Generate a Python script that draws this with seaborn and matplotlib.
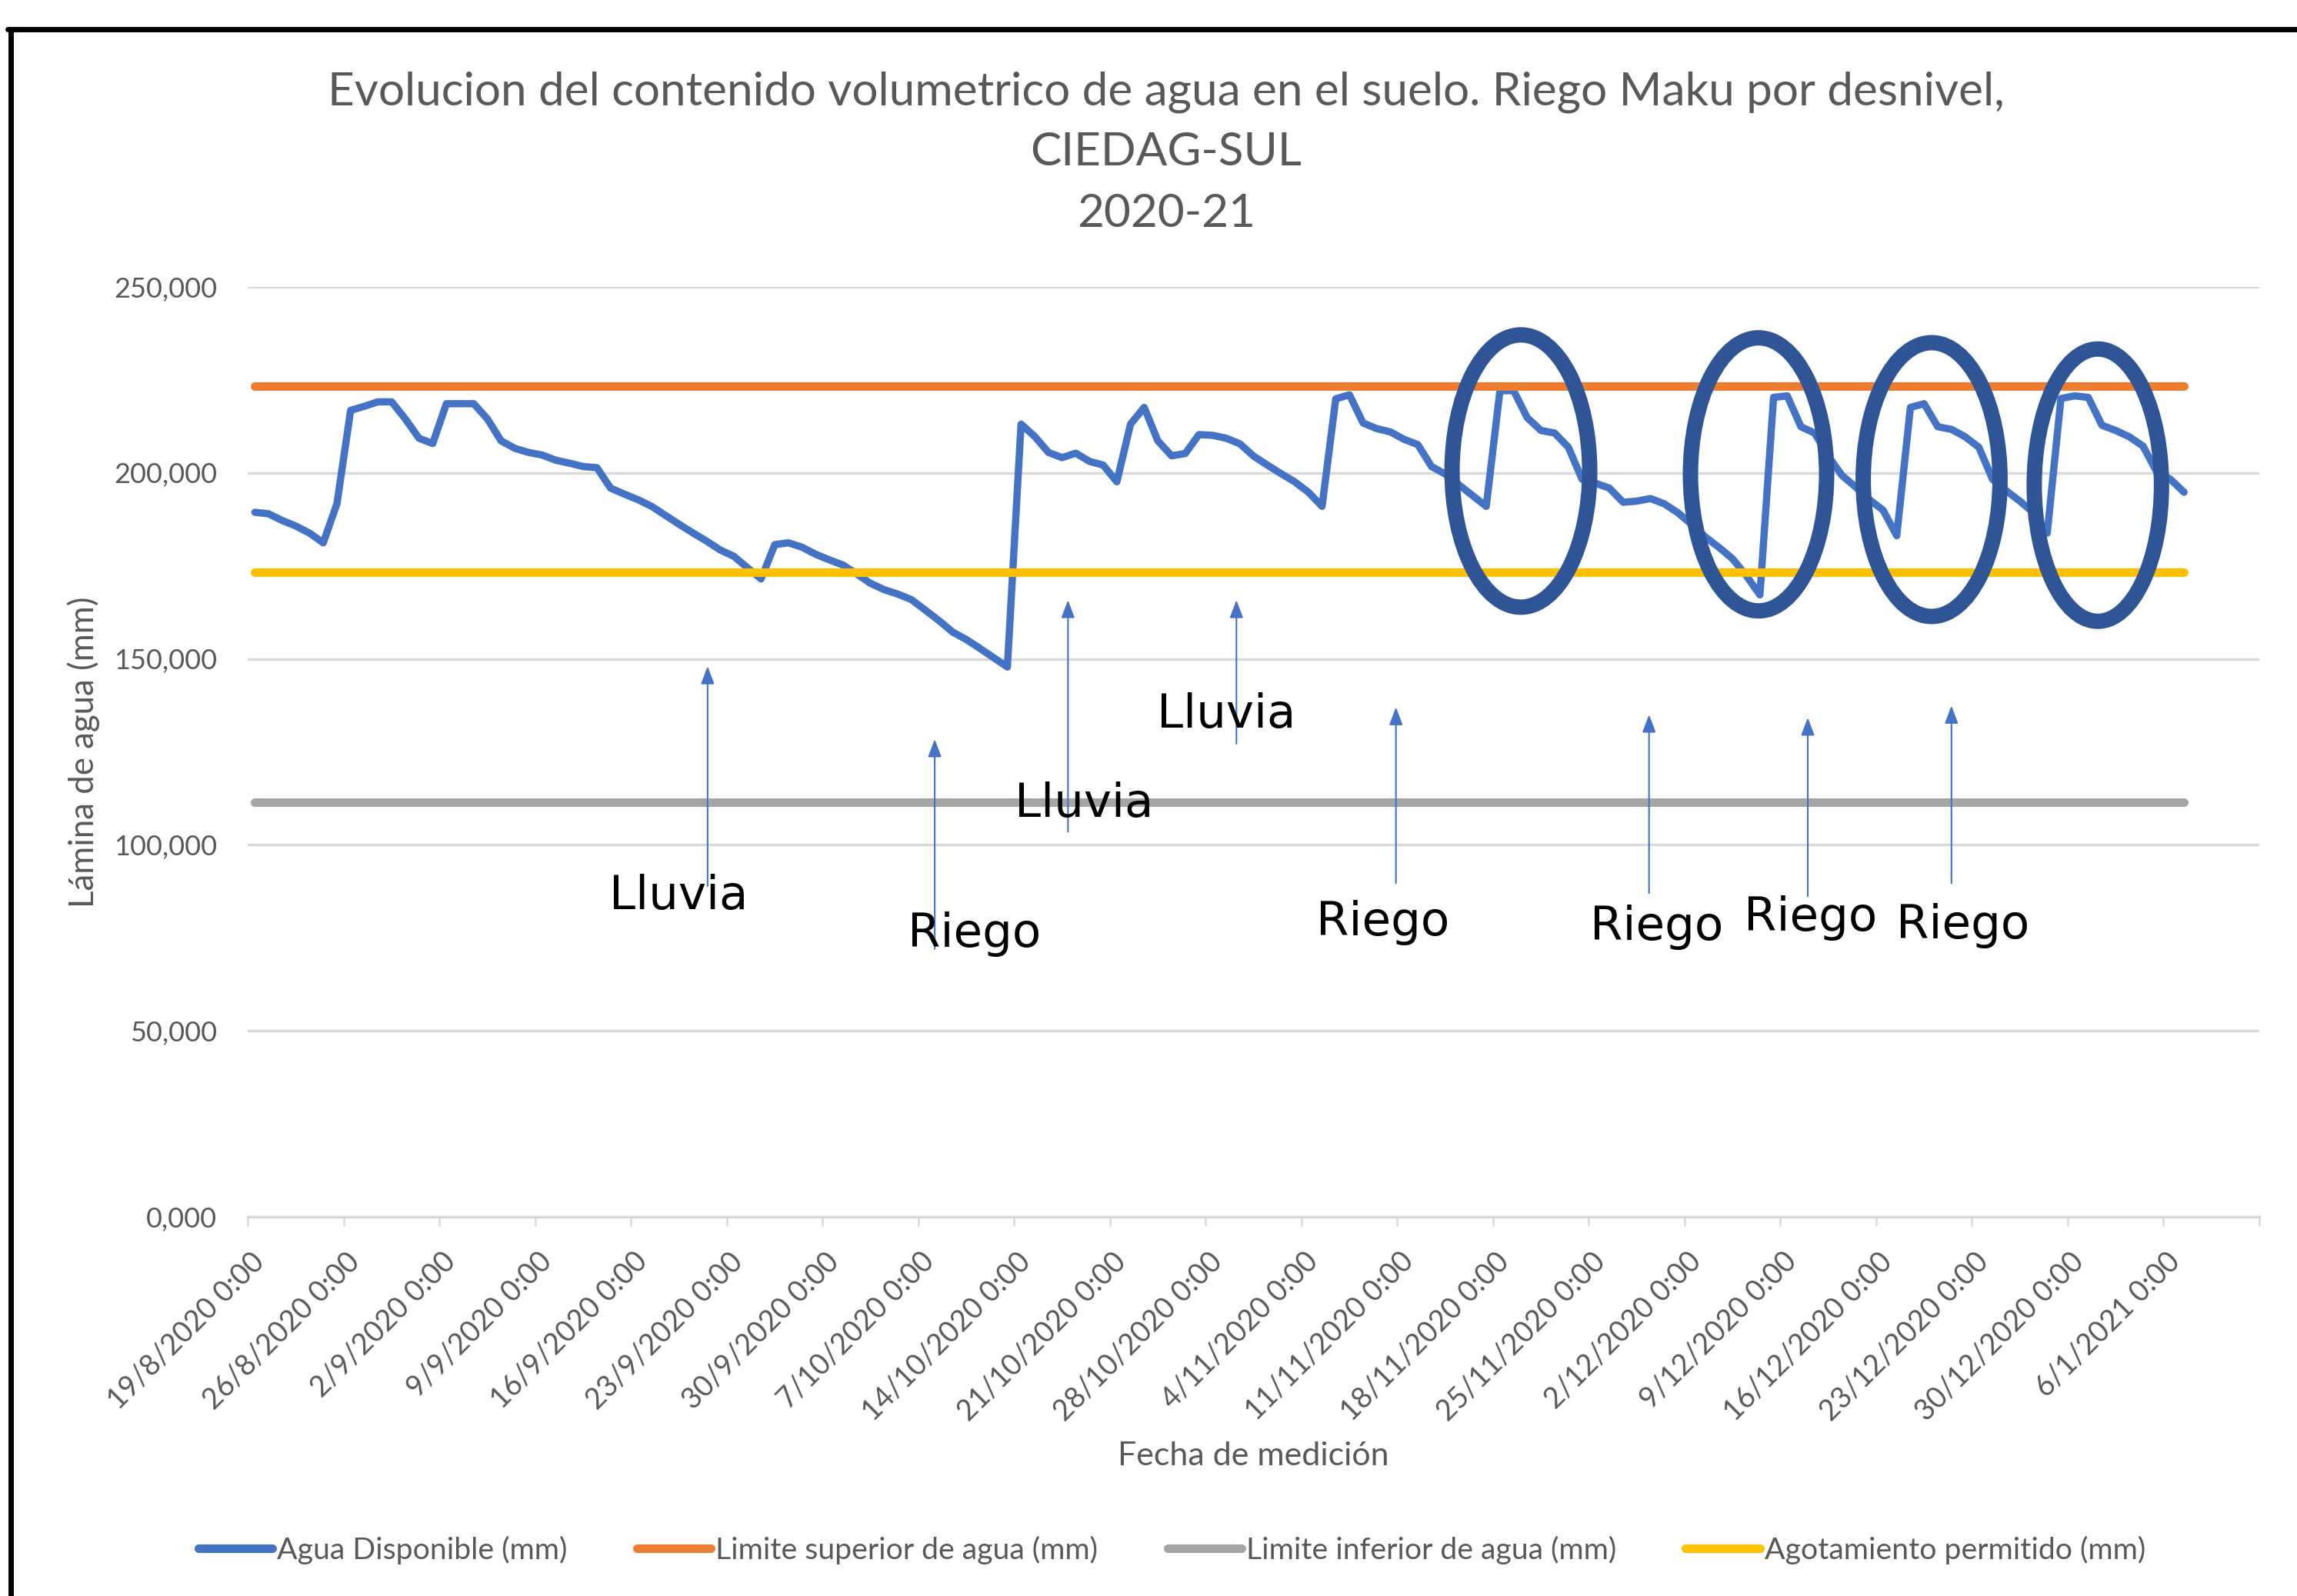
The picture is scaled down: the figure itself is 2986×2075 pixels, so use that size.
import numpy as np
import pandas as pd
import matplotlib
matplotlib.use("Agg")
import matplotlib.pyplot as plt
import matplotlib.dates as mdates
import matplotlib.transforms as mtransforms
from matplotlib.patches import Ellipse
from matplotlib.lines import Line2D
from matplotlib.ticker import FuncFormatter, FixedLocator
import seaborn as sns

# ---------------- data ----------------
start_date = "2020-08-19"
agua_disponible = [
    189.4, 189.0, 187.2, 185.7, 183.8, 181.2, 191.7, 216.8, 217.9, 219.1,
    219.1, 214.5, 209.3, 207.9, 218.6, 218.6, 218.6, 214.5, 208.6, 206.6,
    205.5, 204.8, 203.4, 202.6, 201.7, 201.4, 195.9, 194.3, 192.8, 191.0,
    188.6, 186.2, 183.9, 181.7, 179.3, 177.6, 174.5, 171.5, 180.7, 181.2,
    180.0, 178.1, 176.6, 175.2, 172.8, 170.3, 168.6, 167.4, 165.9, 163.1,
    160.3, 157.2, 155.2, 152.8, 150.3, 147.8, 213.1, 209.8, 205.5, 204.1,
    205.3, 203.1, 202.1, 197.6, 213.1, 217.6, 208.6, 204.6, 205.2, 210.3,
    210.1, 209.3, 207.8, 204.5, 202.1, 199.8, 197.6, 194.8, 191.0, 219.9,
    221.0, 213.4, 211.9, 211.0, 209.0, 207.6, 201.7, 199.7, 196.8, 193.9,
    191.0, 222.1, 222.1, 214.8, 211.4, 210.7, 206.9, 198.3, 197.2, 195.9,
    192.1, 192.4, 193.1, 191.7, 189.3, 186.2, 182.8, 180.0, 176.9, 172.4,
    167.2, 220.3, 220.7, 212.4, 210.7, 204.5, 199.3, 196.2, 192.8, 190.0,
    183.1, 217.6, 218.6, 212.4, 211.7, 209.7, 206.9, 198.3, 195.2, 192.4,
    189.3, 183.8, 220.0, 220.7, 220.3, 212.8, 211.4, 209.7, 207.2, 200.3,
    198.3, 194.8,
]
limite_superior = 223.3
limite_inferior = 111.5
agotamiento_permitido = 173.3

series_names = [
    "Agua Disponible (mm)",
    "Limite superior de agua (mm)",
    "Limite inferior de agua (mm)",
    "Agotamiento permitido (mm)",
]
series_colors = ["#4472C4", "#ED7D31", "#A5A5A5", "#FFC000"]

x_tick_labels = [
    "19/8/2020 0:00", "26/8/2020 0:00", "2/9/2020 0:00", "9/9/2020 0:00",
    "16/9/2020 0:00", "23/9/2020 0:00", "30/9/2020 0:00", "7/10/2020 0:00",
    "14/10/2020 0:00", "21/10/2020 0:00", "28/10/2020 0:00", "4/11/2020 0:00",
    "11/11/2020 0:00", "18/11/2020 0:00", "25/11/2020 0:00", "2/12/2020 0:00",
    "9/12/2020 0:00", "16/12/2020 0:00", "23/12/2020 0:00", "30/12/2020 0:00",
    "6/1/2021 0:00",
]
y_ticks = [0, 50, 100, 150, 200, 250]

title_lines = [
    "Evolucion del contenido volumetrico de agua en el suelo. Riego Maku por desnivel,",
    "CIEDAG-SUL",
    "2020-21",
]
x_label = "Fecha de medición"
y_label = "Lámina de agua (mm)"
event_labels = ["Lluvia", "Riego", "Lluvia", "Lluvia", "Riego", "Riego", "Riego", "Riego"]

# ---------------- frame ----------------
dates = pd.date_range(start_date, periods=len(agua_disponible), freq="D")
n = len(dates)
df = pd.concat([
    pd.DataFrame({"Fecha": dates, "Valor": agua_disponible, "Serie": series_names[0]}),
    pd.DataFrame({"Fecha": dates, "Valor": [limite_superior] * n, "Serie": series_names[1]}),
    pd.DataFrame({"Fecha": dates, "Valor": [limite_inferior] * n, "Serie": series_names[2]}),
    pd.DataFrame({"Fecha": dates, "Valor": [agotamiento_permitido] * n, "Serie": series_names[3]}),
], ignore_index=True)

sns.set_style("white")
plt.rcParams["font.family"] = ["Lato", "DejaVu Sans"]
TXT = "#595959"

fig = plt.figure(figsize=(29.86, 20.75), dpi=100)
ax = fig.add_axes([0.10797, 0.23759, 0.87562, 0.58265])

sns.lineplot(data=df, x="Fecha", y="Valor", hue="Serie", hue_order=series_names,
             palette=series_colors, ax=ax, legend=False, sort=False, estimator=None)

widths = [6.8, 8.0, 8.0, 8.0]
for line, lw in zip(ax.lines, widths):
    line.set_linewidth(lw)
    line.set_solid_capstyle("round")
    line.set_solid_joinstyle("round")

x0 = mdates.date2num(pd.Timestamp(start_date)) - 0.5   # axis origin (Excel between-tick layout)
ax.set_xlim(x0, x0 + 147)
ax.set_ylim(0, 250)

# grid / spines
ax.yaxis.grid(True, color="#D9D9D9", lw=2.4)
ax.xaxis.grid(False)
ax.set_axisbelow(True)
for s in ["left", "right", "top"]:
    ax.spines[s].set_visible(False)
ax.spines["bottom"].set_color("#D9D9D9")
ax.spines["bottom"].set_linewidth(2.4)

ax.set_yticks(y_ticks)
ax.yaxis.set_major_formatter(FuncFormatter(lambda v, p: f"{v:.3f}".replace(".", ",")))
ax.tick_params(axis="y", length=0, pad=29, labelsize=26, labelcolor=TXT)

xt = [x0 + 7 * k for k in range(22)]
ax.xaxis.set_major_locator(FixedLocator(xt))
ax.set_xticklabels(x_tick_labels + [""])
ax.tick_params(axis="x", length=8.6, width=1.8, color="#D9D9D9", pad=29,
               labelsize=27, labelcolor=TXT, direction="out", bottom=True)
shift = mtransforms.ScaledTranslation(15 / 100, 0, fig.dpi_scale_trans)
for lab in ax.get_xticklabels():
    lab.set_rotation(45)
    lab.set_ha("right")
    lab.set_va("center")
    lab.set_rotation_mode("anchor")
    lab.set_transform(lab.get_transform() + shift)

ax.set_xlabel(x_label, fontsize=31, color=TXT)
ax.xaxis.label.set_va("center")
ax.xaxis.set_label_coords(0.5, -0.257)
ax.set_ylabel(y_label, fontsize=31.5, color=TXT)
ax.yaxis.label.set_va("center")
ax.yaxis.set_label_coords(-0.0818, 0.5)

# ---------------- annotations ----------------
def xd(axis_day):
    return x0 + axis_day

ellipses = [(93.03, 200.5, 10.06, 73.2), (110.4, 199.6, 9.95, 73.4),
            (123.05, 198.2, 10.0, 73.6), (135.2, 196.7, 9.3, 73.2)]
for cx, cy, w, h in ellipses:
    ax.add_patch(Ellipse((xd(cx), cy), w, h, fill=False, ec="#2F5597", lw=14.4, zorder=10))

arrows = [(33.59, 88.9, 148.0), (50.19, 72.0, 128.4), (59.93, 103.5, 165.8),
          (72.24, 127.2, 165.8), (83.9, 89.7, 137.0), (102.4, 87.0, 135.0),
          (114.0, 86.2, 134.2), (124.5, 89.7, 137.4)]
for ad, yb, yt in arrows:
    ax.annotate("", xy=(xd(ad), yt), xytext=(xd(ad), yb),
                arrowprops=dict(arrowstyle="-|>,head_length=1.0,head_width=0.38",
                                mutation_scale=14, color="#4472C4", lw=1.5,
                                shrinkA=0, shrinkB=0), zorder=6)

text_pos = [(31.45, 86.2), (53.07, 75.9), (61.11, 111.0), (71.49, 135.0),
            (82.95, 79.1), (102.97, 77.9), (114.2, 80.3), (125.35, 78.3)]
for lab, (ad, yv) in zip(event_labels, text_pos):
    ax.text(xd(ad), yv, lab, ha="center", va="center", fontsize=44,
            family=["DejaVu Sans"], color="black", zorder=7)

# ---------------- title / legend / frame ----------------
for line, yy in zip(title_lines, [120, 198, 278]):
    fig.text(0.5077, 1 - yy / 2075, line, ha="center", va="center", fontsize=43.4, color=TXT)

handles = [Line2D([0], [0], color=c, lw=8, solid_capstyle="round") for c in series_colors]
fig.legend(handles, series_names, loc="center", bbox_to_anchor=(0.5102, 0.0289),
           ncol=4, frameon=False, fontsize=28.3, handlelength=2.45, handletextpad=0.15,
           columnspacing=2.3, labelcolor=TXT)

fig.add_artist(Line2D([10 / 2986, 1], [1 - 38 / 2075, 1 - 38 / 2075],
                      transform=fig.transFigure, color="black", lw=5))
fig.add_artist(Line2D([13.5 / 2986, 13.5 / 2986], [0, 1 - 38 / 2075],
                      transform=fig.transFigure, color="black", lw=5))

fig.savefig("out.png", dpi=100, facecolor="white")
